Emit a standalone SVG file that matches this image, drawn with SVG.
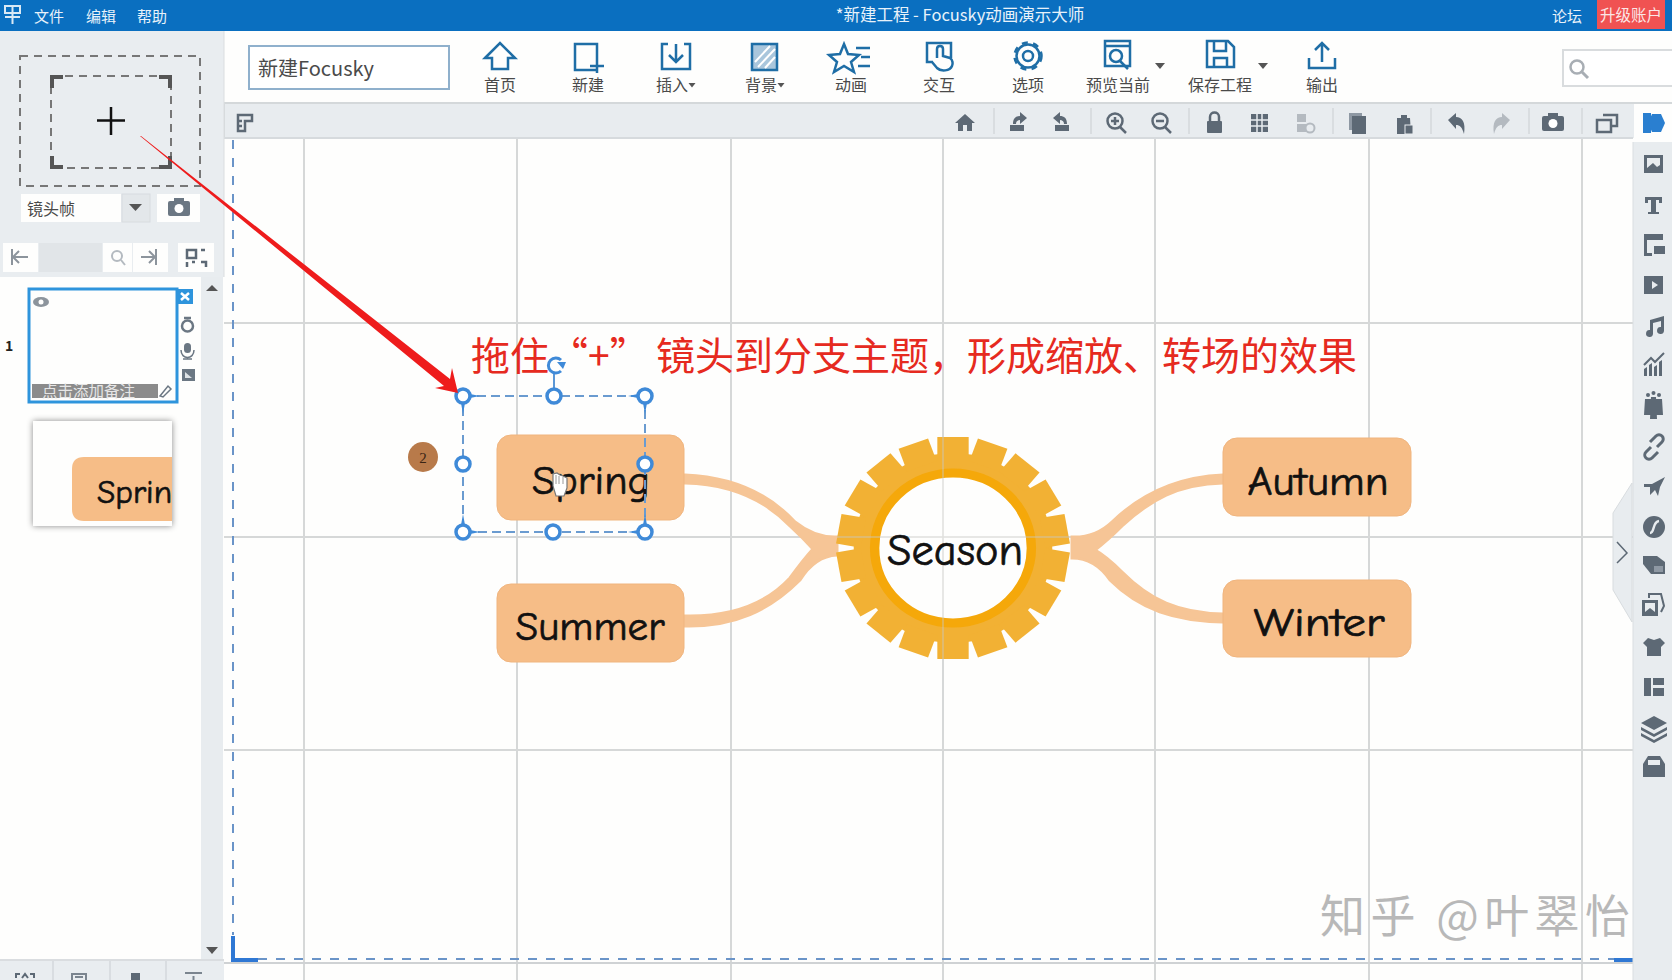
<svg xmlns="http://www.w3.org/2000/svg" width="1672" height="980" viewBox="0 0 1672 980">
<style>
text{font-family:"Noto Sans CJK SC","Noto Sans",sans-serif}
.menu{fill:#e8f2fa;font-size:15px}
.lab{fill:#4a4a4a;font-size:16px;text-anchor:middle}
.ti{fill:none;stroke:#1f6ea6;stroke-width:2.500}
.tf{fill:#1f6ea6}
.gi{fill:none;stroke:#5d6975;stroke-width:2.500}
.gf{fill:#5d6975}
.lt{fill:#b4bac0}
.sep{stroke:#d3d8dc;stroke-width:1.500}
.grid{stroke:#d6d8d8;stroke-width:2}
.btn{fill:#fefefd}
.node{fill:#f6bd87;stroke:#f0b57f;stroke-width:1}
.word{font-family:"Comic Sans MS","Comic Neue","DejaVu Sans",sans-serif;fill:#111;stroke:#111;stroke-width:.7px;text-anchor:middle}
.h{fill:#fff;stroke:#3f8ad8;stroke-width:3.500}
.sel{fill:none;stroke:#6a9bd0;stroke-width:2;stroke-dasharray:9 5}
.edge{fill:none;stroke:#6a94c8;stroke-width:2;stroke-dasharray:9 9}
.dash{fill:none;stroke:#777;stroke-width:2;stroke-dasharray:8 6}
</style>
<defs>
<rect id="tooth" x="-15" y="-111" width="30" height="24" fill="#f2b134"/>
<g id="cam"><rect x="-11" y="-7" width="22" height="15" rx="2"/><rect x="-5" y="-10" width="10" height="4"/><circle cx="0" cy="0.5" r="4.500" fill="#fff"/></g>
<path id="tri" d="M-5,-3H5L0,3Z"/>
<path id="tri2" d="M-3.500,-2H3.500L0,2.500Z"/>
</defs>
<rect width="1672" height="980" fill="#fefefd"/>

<g id="canvas-grid">
<path class="grid" d="M304,138V980M517,138V980M731,138V980M943,138V980M1155,138V980M1369,138V980M1582,138V980M224,323H1633M224,537H1633M224,750H1633"/>
<path d="M224,963H1633" stroke="#cfd2d4" stroke-width="2"/>
<path class="edge" d="M233,140V935M258,959H1614"/>
<path d="M233,936V960H258M1614,960H1633" fill="none" stroke="#2f78d4" stroke-width="4"/>
</g>

<g id="titlebar">
<rect width="1672" height="31" fill="#0a6fc0"/>
<path d="M5,6H20V13H5ZM5,17H20M12.500,6V24" fill="none" stroke="#d9e9f5" stroke-width="2"/>
<text class="menu" x="34" y="22">文件</text>
<text class="menu" x="86" y="22">编辑</text>
<text class="menu" x="137" y="22">帮助</text>
<text x="960" y="21" fill="#e8f2fa" font-size="16.500" text-anchor="middle">*新建工程 - Focusky动画演示大师</text>
<text class="menu" x="1552" y="22">论坛</text>
<rect x="1597" y="0" width="68" height="29" fill="#f05252"/>
<text x="1631" y="21" fill="#fbe6e6" font-size="15.500" text-anchor="middle">升级账户</text>
</g>

<g id="toolbar">
<path d="M224,103H1672" stroke="#d4d8da" stroke-width="2"/>
<rect x="249" y="46" width="200" height="43" fill="#fff" stroke="#8fb0cc" stroke-width="2"/>
<text x="258" y="76" font-size="20" fill="#4a4a4a">新建Focusky</text>
<path class="ti" d="M485,58L500,43L515,58H508V69H492V58Z"/>
<text class="lab" x="500" y="91">首页</text>
<path class="ti" d="M597,70H575V44H597V60M590,66H604M597,59V73"/>
<text class="lab" x="588" y="91">新建</text>
<path class="ti" d="M668,44H662V69H690V44H684M676,44V61M669,55L676,62L683,55"/>
<text class="lab" x="672" y="91">插入</text><use href="#tri2" x="692" y="85" fill="#555"/>
<rect x="752" y="44" width="25" height="26" fill="#a9c6dc" stroke="#1f6ea6" stroke-width="2.500"/>
<path d="M755,62L770,46M758,67L775,49M765,68L775,57" stroke="#fff" stroke-width="2"/>
<text class="lab" x="761" y="91">背景</text><use href="#tri2" x="781" y="85" fill="#555"/>
<path class="ti" d="M844,44L848,54L859,55L851,62L854,72L844,66L834,72L837,62L829,55L840,54ZM856,48H870M861,57H870M858,66H870"/>
<text class="lab" x="851" y="91">动画</text>
<path class="ti" d="M933,62H927V43H951V58M937,58V49C937,45 943,45 943,49V56L950,58C953,60 953,64 952,66C950,71 941,72 937,68L932,62"/>
<text class="lab" x="939" y="91">交互</text>
<circle class="ti" cx="1028" cy="56" r="5"/><circle cx="1028" cy="56" r="11.500" fill="none" stroke="#1f6ea6" stroke-width="2.500"/>
<circle cx="1028" cy="56" r="13.500" fill="none" stroke="#1f6ea6" stroke-width="2.500" stroke-dasharray="6 5.400"/>
<text class="lab" x="1028" y="91">选项</text>
<path class="ti" d="M1105,41H1130V66H1105ZM1105,46H1130"/><circle class="ti" cx="1116" cy="56" r="6"/><path class="ti" d="M1120,61L1128,69"/>
<use href="#tri" x="1160" y="66" fill="#555"/>
<text class="lab" x="1118" y="91">预览当前</text>
<path class="ti" d="M1207,41H1228L1234,47V67H1207ZM1214,41V51H1226V41M1214,67V58H1227V67"/>
<use href="#tri" x="1263" y="66" fill="#555"/>
<text class="lab" x="1220" y="91">保存工程</text>
<path class="ti" d="M1309,58V68H1335V58M1322,62V43M1315,50L1322,43L1329,50"/>
<text class="lab" x="1322" y="91">输出</text>
<rect x="1563" y="50" width="112" height="36" fill="#fff" stroke="#d9dcde" stroke-width="2"/>
<circle cx="1577" cy="67" r="6.500" fill="none" stroke="#a8aeb4" stroke-width="2.500"/><path d="M1582,72L1588,78" stroke="#a8aeb4" stroke-width="3"/>
</g>

<g id="subbar">
<rect x="224" y="104" width="1448" height="34" fill="#e8ecef"/>
<rect x="224" y="103" width="1" height="35" fill="#d4d8da"/>
<path d="M224,138H1633" stroke="#d6dadd" stroke-width="2"/>
<path class="gi" d="M238,115H252V121H245V131H238ZM238,121H242M238,126H242" stroke-width="2"/>
<path class="sep" d="M994,108V134M1091,108V134M1189,108V134M1333,108V134M1431,108V134M1529,108V134M1582,108V134"/>
<path class="gf" d="M965,114L975,123H972V131H967V125H963V131H958V123H955Z"/>
<path class="gf" d="M1010,125H1024V131H1010ZM1013,124C1013,118 1016,116 1020,116V112L1027,118L1020,124V120C1018,120 1016,121 1016,124Z"/>
<path class="gf" d="M1055,125H1069V131H1055ZM1067,124C1067,118 1064,116 1060,116V112L1053,118L1060,124V120C1062,120 1064,121 1064,124Z"/>
<circle class="gi" cx="1115" cy="121" r="7.500"/><path class="gi" d="M1120,127L1126,133M1111,121H1119M1115,117V125"/>
<circle class="gi" cx="1160" cy="121" r="7.500"/><path class="gi" d="M1165,127L1171,133M1156,121H1164"/>
<rect class="gf" x="1207" y="121" width="15" height="12" rx="1"/><path class="gi" d="M1210,121V117C1210,111 1219,111 1219,117V121"/>
<rect class="gf" x="1251" y="114" width="17" height="18"/><path d="M1251,120H1268M1251,126H1268M1257,114V132M1262,114V132" stroke="#e8ecef" stroke-width="1.500"/>
<rect class="lt" x="1297" y="114" width="9" height="8"/><rect class="lt" x="1297" y="124" width="9" height="8"/><circle cx="1310" cy="128" r="4.500" fill="none" stroke="#b4bac0" stroke-width="2"/>
<rect x="1349" y="113" width="13" height="17" fill="#8e98a3"/><rect class="gf" x="1352" y="116" width="14" height="18"/>
<path class="gf" d="M1397,118H1410L1411,134H1397ZM1401,115H1407V119H1401Z"/><rect x="1405" y="125" width="8" height="9" fill="#5d6975" stroke="#e8ecef"/>
<path class="gf" d="M1448,120L1456,113V117C1462,117 1466,122 1464,134C1462,127 1460,125 1456,125V129Z"/>
<path class="lt" d="M1510,120L1502,113V117C1496,117 1492,122 1494,134C1496,127 1498,125 1502,125V129Z"/>
<use href="#cam" x="1553" y="123" fill="#5d6975"/>
<path class="gi" d="M1603,115H1617V126H1612M1597,120H1611V132H1597Z"/>
<rect x="1634" y="104" width="38" height="38" fill="#fefefd"/>
<path d="M1643,113H1651V133H1643Z" fill="#2a7fd0"/><path d="M1652,114L1661,114L1665,123L1661,132L1652,132L1648,123Z" fill="#2a7fd0"/>
</g>

<g id="right-rail">
<rect x="1633" y="142" width="39" height="838" fill="#e8ecef"/>
<path d="M1633,142V980" stroke="#dadee1" stroke-width="1"/>
<polygon points="1632,483 1613,513 1613,590 1632,622" fill="#e8ecef" stroke="#d8dcdf"/>
<path d="M1617,542L1627,553L1617,563" fill="none" stroke="#5d6975" stroke-width="1.500"/>
<g fill="#5d6975">
<path fill-rule="evenodd" d="M1644,155H1663V173H1644ZM1647,158V168L1653,163L1657,167L1660,165V158Z"/>
<path d="M1645,197H1662V203H1659V200H1656V212H1659V214H1648V212H1651V200H1648V203H1645Z"/>
<path d="M1644,234H1663V240H1644ZM1644,240H1647V253H1652V256H1644ZM1654,246H1665V254H1654Z"/>
<path d="M1644,276H1663V294H1644Z"/><path d="M1652,281L1658,285L1652,289Z" fill="#e8ecef"/>
<path d="M1650,320L1664,316V331A3.500,3.500 0 1 1 1661,327V321L1653,323V334A3.500,3.500 0 1 1 1650,330Z"/>
<path d="M1644,376V369L1647,367V376ZM1649,376V365L1652,363V376ZM1654,376V367L1657,365V376ZM1659,376V362L1662,360V376Z"/><path d="M1644,365L1651,358L1655,362L1664,353" fill="none" stroke="#5d6975" stroke-width="2"/>
<path d="M1645,399H1651L1652,415H1644ZM1651,397H1656L1657,419H1650ZM1656,399H1662L1663,415H1655Z"/><circle cx="1648" cy="395" r="2"/><circle cx="1653.500" cy="393" r="2"/><circle cx="1659" cy="395" r="2"/>
<path d="M1651,447L1646,452A4,4 0 0 0 1652,458L1658,452M1657,447L1662,442A4,4 0 0 0 1656,436L1650,442" fill="none" stroke="#5d6975" stroke-width="3"/>
<path d="M1665,477L1660,487L1658,496L1655,490L1650,495V487H1644V484L1652,484Z"/>
<circle cx="1654" cy="527" r="11"/><path d="M1650,533C1655,533 1652,522 1659,521" fill="none" stroke="#e8ecef" stroke-width="2.500"/>
<path d="M1643,556H1657L1665,562V574H1651L1643,564Z"/><rect x="1654" y="566" width="9" height="6" fill="#8e98a3"/>
<path fill-rule="evenodd" d="M1642,600H1658V616H1642ZM1645,603V612L1650,608L1655,612V603Z"/><path d="M1649,598V594H1661L1664,606L1661,612" fill="none" stroke="#5d6975" stroke-width="2"/>
<path d="M1648,638L1654,640L1660,638L1665,643L1661,647V656H1647V647L1643,643Z"/>
<path d="M1644,678H1651V696H1644ZM1653,678H1664V685H1653ZM1653,688H1664V696H1653Z"/>
<path d="M1654,716L1667,723L1654,730L1641,723ZM1641,727L1654,734L1667,727V730L1654,737L1641,730ZM1641,733L1654,740L1667,733V736L1654,743L1641,736Z"/>
<path d="M1643,764L1648,756H1660L1665,764V777H1643Z"/><rect x="1648" y="760" width="12" height="5" fill="#e8ecef"/>
</g>
</g>

<g id="left-panel">
<rect x="0" y="31" width="224" height="246" fill="#e9edf0"/>
<path d="M224,31V277" stroke="#dadde0"/>
<rect class="dash" x="20" y="56" width="180" height="130"/>
<rect class="dash" x="51" y="76" width="120" height="92"/>
<path d="M52,88V77H63M170,88V77H159M52,156V167H63M170,156V167H159" fill="none" stroke="#555" stroke-width="4"/>
<path d="M97,120.500H125M111,107V135" stroke="#111" stroke-width="2.500"/>
<rect class="btn" x="21" y="194" width="100" height="28"/>
<text x="27" y="215" font-size="16" fill="#4a4a4a">镜头帧</text>
<rect x="122" y="194" width="28" height="28" fill="#e3e7ea" stroke="#d8dcdf"/>
<path d="M129,204H142L135.500,211Z" fill="#555"/>
<rect class="btn" x="157" y="194" width="43" height="28"/>
<use href="#cam" x="179" y="208" fill="#6b7783"/>
<rect class="btn" x="3" y="243" width="35" height="29"/>
<rect x="39" y="243" width="63" height="29" fill="#e1e5e8"/>
<rect class="btn" x="103" y="243" width="29" height="29"/>
<rect class="btn" x="133" y="243" width="35" height="29"/>
<rect class="btn" x="178" y="243" width="36" height="29"/>
<path d="M12,249V265M28,257H13M19,251L13,257L19,263" fill="none" stroke="#8c949c" stroke-width="2"/>
<circle cx="117" cy="256" r="5" fill="none" stroke="#b4bac0" stroke-width="2"/><path d="M121,260L125,265" stroke="#b4bac0" stroke-width="2"/>
<path d="M156,249V265M141,257H155M149,251L155,257L149,263" fill="none" stroke="#8c949c" stroke-width="2"/>
<path d="M187,250H196V258H187ZM201,250H205M187,262V267M192,262H195M201,262H206V267" fill="none" stroke="#5d6975" stroke-width="2.500"/>
<rect x="201" y="277" width="22" height="683" fill="#e8ecef"/>
<path d="M206,291H218L212,285Z" fill="#555"/>
<path d="M206,947H218L212,954Z" fill="#555"/>
<path d="M0,960H224" stroke="#dadde0" stroke-width="2"/>
<rect x="0" y="961" width="224" height="19" fill="#e9edf0"/>
<path class="sep" d="M53,961V980M110,961V980M166,961V980"/>
<path d="M16,978V974H20M30,974H34V978M22,978L25,974L28,978" fill="none" stroke="#5d6975" stroke-width="2"/>
<path d="M72,980V974H86V980M75,977H83" fill="none" stroke="#7b858f" stroke-width="2"/>
<rect x="131" y="973" width="9" height="7" fill="#5d6975"/>
<path d="M185,973H202M193.500,976V980" fill="none" stroke="#7b858f" stroke-width="2"/>

<text x="5" y="351" font-size="14" font-weight="700" fill="#222">1</text>
<rect x="29" y="289" width="148" height="113" fill="#fefefd" stroke="#2e94dc" stroke-width="3"/>
<rect x="177" y="289" width="16" height="15" fill="#2e94dc"/>
<path d="M181,293L189,300M189,293L181,300" stroke="#fff" stroke-width="2.500"/>
<ellipse cx="41" cy="302" rx="8" ry="5" fill="#8c949c"/><circle cx="41" cy="302" r="2.500" fill="#fefefd"/>
<circle cx="187.500" cy="326" r="5.500" fill="none" stroke="#6b7783" stroke-width="2.500"/><path d="M184,318H191" stroke="#6b7783" stroke-width="2.500"/>
<rect x="184" y="343" width="7" height="10" rx="3.500" fill="#6b7783"/><path d="M181,350C181,360 194,360 194,350M187.500,357V359M183,359H192" fill="none" stroke="#6b7783" stroke-width="1.500"/>
<rect x="182" y="369" width="13" height="12" fill="#6b7783"/><path d="M185,372L192,378H185Z" fill="#dfe3e6"/>
<rect x="32" y="384" width="126" height="14" fill="#8b8b8b"/>
<text x="42" y="397" font-size="15.500" fill="#e6e6e6">点击添加备注</text>
<path d="M160,396L168,386L171,389L163,397Z" fill="none" stroke="#6b7783" stroke-width="1.500"/>
<rect x="33" y="421" width="139" height="105" fill="#fefefd" style="filter:drop-shadow(0 0 3px #888)"/>
<path d="M172,457H84Q72,457 72,469V509Q72,521 84,521H172Z" fill="#f6bd87"/>
<text class="word" x="97" y="503" font-size="33" style="text-anchor:start" textLength="75" lengthAdjust="spacingAndGlyphs">Sprin</text>
</g>

<g id="connectors" fill="#f6c596" stroke="#f6c596" stroke-width="3">
<path d="M685,475C735,477 770,495 795,522Q815,538 837,537V555Q815,556 800,580C770,610 735,627 685,626V616C730,617 765,605 790,578Q803,560 813,549Q803,538 790,526C765,500 730,484 685,483Z"/>
<path d="M1223,475C1175,477 1140,495 1112,522Q1095,538 1072,537V558Q1095,558 1110,580C1140,610 1175,621 1223,622V614C1178,613 1150,600 1122,572Q1106,556 1095,550Q1108,540 1122,526C1150,500 1178,484 1223,483Z"/>
</g>

<g id="season">
<g transform="translate(953 548) scale(1.045 1)">
<circle r="95" fill="#f2b134"/>
<use href="#tooth"/><use href="#tooth" transform="rotate(20)"/><use href="#tooth" transform="rotate(40)"/><use href="#tooth" transform="rotate(60)"/><use href="#tooth" transform="rotate(80)"/><use href="#tooth" transform="rotate(100)"/><use href="#tooth" transform="rotate(120)"/><use href="#tooth" transform="rotate(140)"/><use href="#tooth" transform="rotate(160)"/><use href="#tooth" transform="rotate(180)"/><use href="#tooth" transform="rotate(200)"/><use href="#tooth" transform="rotate(220)"/><use href="#tooth" transform="rotate(240)"/><use href="#tooth" transform="rotate(260)"/><use href="#tooth" transform="rotate(280)"/><use href="#tooth" transform="rotate(300)"/><use href="#tooth" transform="rotate(320)"/><use href="#tooth" transform="rotate(340)"/>
<circle r="75" fill="#fefefd" stroke="#f5a80a" stroke-width="9"/>
</g>
<path d="M943,437V659M837,537H1069" stroke="#c8c8c4" stroke-width="1.500" opacity=".55"/>
<text class="word" x="955" y="565" font-size="44" textLength="136" lengthAdjust="spacingAndGlyphs">Season</text>
</g>
<g id="spring"><rect class="node" x="497" y="435" width="187" height="85" rx="14"/><text class="word" x="591" y="494" font-size="40" textLength="118" lengthAdjust="spacingAndGlyphs">Spring</text></g>
<g id="summer"><rect class="node" x="497" y="584" width="187" height="78" rx="14"/><text class="word" x="590" y="640" font-size="40" textLength="149" lengthAdjust="spacingAndGlyphs">Summer</text></g>
<g id="autumn"><rect class="node" x="1223" y="438" width="188" height="78" rx="14"/><text class="word" x="1318" y="495" font-size="40" textLength="141" lengthAdjust="spacingAndGlyphs">Autumn</text></g>
<g id="winter"><rect class="node" x="1223" y="580" width="188" height="77" rx="14"/><text class="word" x="1319" y="636" font-size="40" textLength="131" lengthAdjust="spacingAndGlyphs">Winter</text></g>

<g id="selection">
<rect class="sel" x="463" y="396" width="182" height="136"/>
<path d="M470,394L480,396L470,398ZM638,394L628,396L638,398ZM461,403L463,414L465,403ZM643,403L645,414L647,403ZM461,525L463,514L465,525ZM643,525L645,514L647,525ZM470,530L480,532L470,534ZM638,530L628,532L638,534Z" fill="#3f8ad8"/>
<path d="M554,396V372" stroke="#5b97d6" stroke-width="2"/>
<path d="M561,360A7.500,7.500 0 1 0 561,371" fill="none" stroke="#3f8ad8" stroke-width="3"/><path d="M557,362H566L563,369Z" fill="#3f8ad8"/>
<circle class="h" cx="463" cy="396" r="7"/><circle class="h" cx="554" cy="396" r="7"/><circle class="h" cx="645" cy="396" r="7"/>
<circle class="h" cx="463" cy="464" r="7"/><circle class="h" cx="645" cy="464" r="7"/>
<circle class="h" cx="463" cy="532" r="7"/><circle class="h" cx="553" cy="532" r="7"/><circle class="h" cx="645" cy="532" r="7"/>
<path d="M553,474V486L556,496H564L567,488V478L563,476L560,475L557,473Z" fill="#fff" stroke="#777" stroke-width="1.200"/>
<path d="M556,475V484M559,476V484M563,477V484" stroke="#999" stroke-width="1"/>
</g>
<g id="badge"><circle cx="423" cy="457" r="15" fill="#b87a4a"/><text x="423" y="463" font-size="15" fill="#3a2414" text-anchor="middle" style="font-family:'Liberation Serif',serif">2</text></g>

<polygon id="red-arrow" points="140,136 141,136 450,379 452,368 458,393 435,388 444,386" fill="#ee1c1c"/>
<text id="caption" y="370" font-size="39" fill="#e62a20"><tspan x="471">拖住“+”</tspan><tspan x="656">镜头到分支主题，</tspan><tspan x="967">形成缩放、转场的效果</tspan></text>
<text id="watermark" x="1320" y="933" font-size="45" fill="#b8b8b8" textLength="310">知乎 @叶翠怡</text>
</svg>
